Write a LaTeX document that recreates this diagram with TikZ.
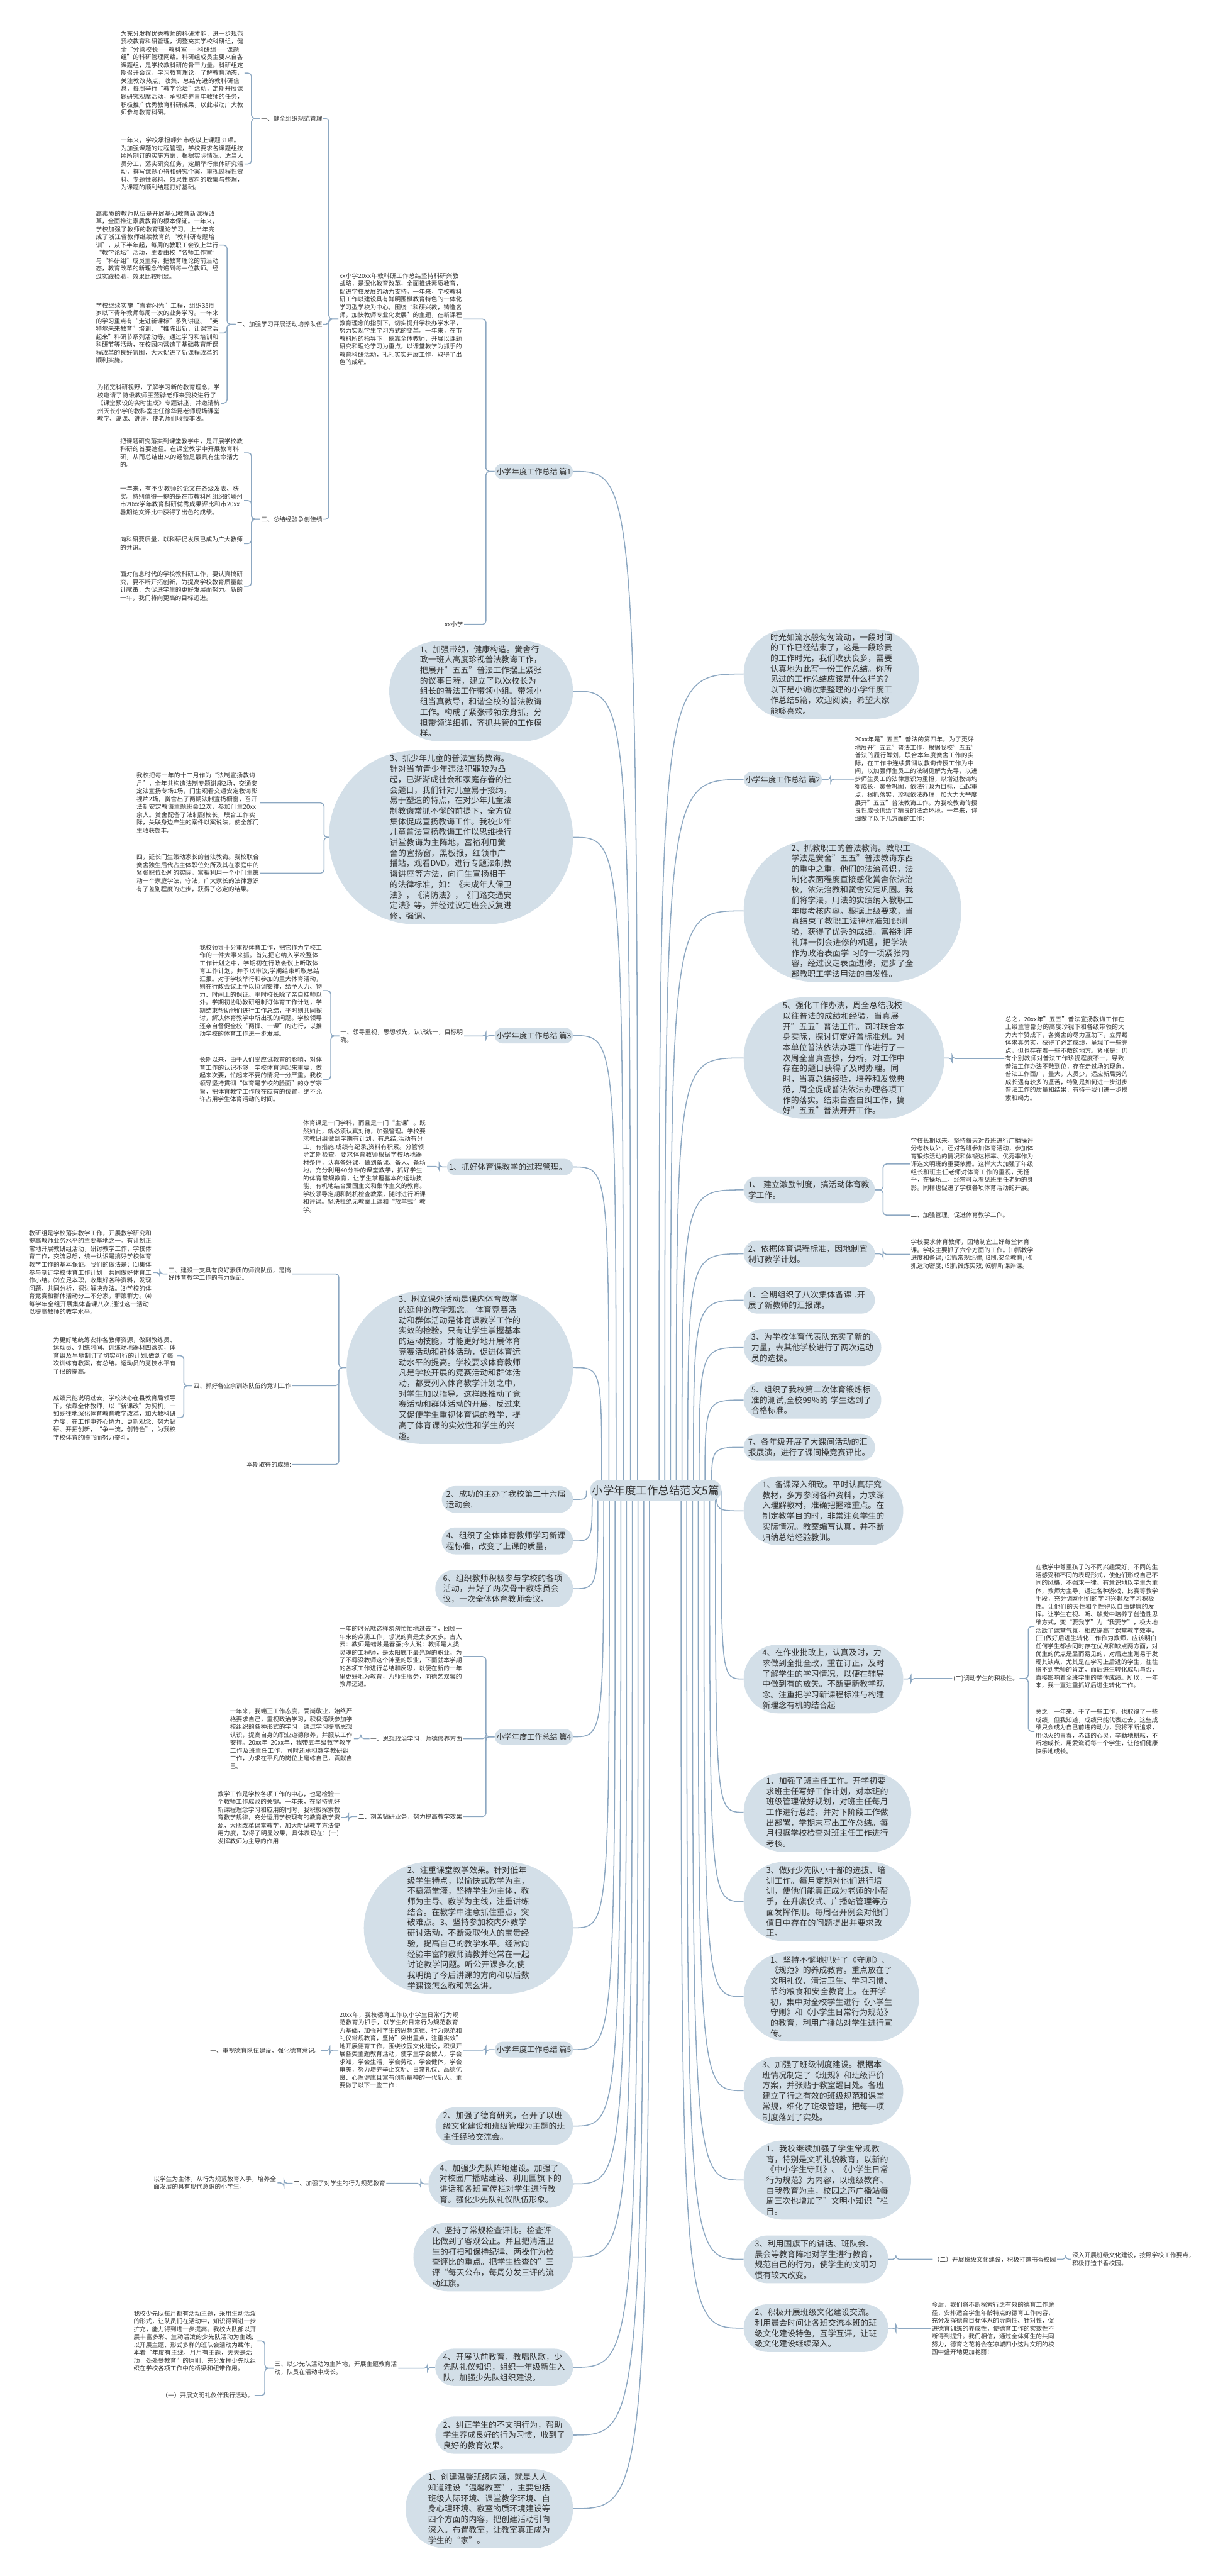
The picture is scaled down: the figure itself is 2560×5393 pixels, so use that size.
\documentclass[tikz,border=0pt]{standalone}
\usepackage{fontspec}
\setmainfont{Noto Sans CJK SC}
\XeTeXlinebreaklocale "zh"
\XeTeXlinebreakskip = 0pt plus 1pt
\usetikzlibrary{shapes.misc,backgrounds}
\definecolor{bubfill}{HTML}{D3DFE8}
\definecolor{lnc}{HTML}{8DA8C2}
\definecolor{txt}{HTML}{333333}
\newcommand\brl[3]{\draw[conn,rounded corners=7pt] (#1.west) -- ++(-#2,0) |- (#3.east);}
\newcommand\brr[3]{\draw[conn,rounded corners=7pt] (#1.east) -- ++(#2,0) |- (#3.west);}
\newcommand\cl[3]{\draw[conn] (#2,-3120) .. controls (#2,-#3) .. (#1.east);}
\newcommand\cri[3]{\draw[conn] (#2,-3120) .. controls (#2,-#3) .. (#1.west);}
\begin{document}
\begin{tikzpicture}[x=1pt,y=1pt,
  bub/.style={rounded rectangle, fill=bubfill, text=txt, font=\fontsize{17}{22}\selectfont, text width=256pt, align=left, inner xsep=2pt, inner ysep=9pt},
  hd/.style={rounded rectangle, fill=bubfill, text=txt, font=\fontsize{16}{20}\selectfont, inner xsep=2pt, inner ysep=9pt},
  lf/.style={text=txt, font=\fontsize{12.8}{16.5}\selectfont, text width=257pt, align=left, inner sep=2pt},
  sh/.style={text=txt, font=\fontsize{12.8}{16.5}\selectfont, inner sep=2pt},
  conn/.style={draw=lnc, line width=2pt},
]
\useasboundingbox (0,0) rectangle (2560,-5393);

% central
\node[hd, font=\fontsize{23}{28}\selectfont, inner ysep=11pt] (C) at (1373,-3120) {小学年度工作总结范文5篇};

% ===== 篇1 =====
\node[hd, anchor=east] (P1) at (1200,-987) {小学年度工作总结 篇1};
\node[lf, anchor=east] (P1i) at (970,-668) {xx小学20xx年教科研工作总结坚持科研兴教战略，是深化教育改革，全面推进素质教育，促进学校发展的动力支持。一年来，学校教科研工作以建设具有鲜明围棋教育特色的一体化学习型学校为中心，围绕“科研兴教，铸造名师，加快教师专业化发展”的主题，在新课程教育理念的指引下，切实提升学校办学水平，努力实现学生学习方式的变革。一年来，在市教科所的指导下，依靠全体教师，开展以课题研究和理论学习为重点，以课堂教学为抓手的教育科研活动，扎扎实实开展工作，取得了出色的成绩。};
\node[sh, anchor=east] (P1x) at (972,-1307) {xx小学};
\node[sh, anchor=east] (P1a) at (677,-248) {一、健全组织规范管理};
\node[lf, anchor=east] (P1a1) at (512,-153) {为充分发挥优秀教师的科研才能，进一步规范我校教育科研管理，调整充实学校科研组，健全“分管校长——教科室——科研组——课题组”的科研管理网络。科研组成员主要来自各课题组，是学校教科研的骨干力量。科研组定期召开会议，学习教育理论，了解教育动态，关注教改热点，收集、总结先进的教科研信息，每周举行“教学论坛”活动，定期开展课题研究观摩活动，承担培养青年教师的任务，积极推广优秀教育科研成果，以此带动广大教师参与教育科研。};
\node[lf, anchor=east] (P1a2) at (512,-343) {一年来，学校承担嵊州市级以上课题31项。为加强课题的过程管理，学校要求各课题组按照所制订的实施方案，根据实际情况，适当人员分工，落实研究任务，定期举行集体研究活动，撰写课题心得和研究个案，重视过程性资料、专题性资料、效果性资料的收集与整理，为课题的顺利结题打好基础。};
\node[sh, anchor=east] (P1b) at (677,-679) {二、加强学习开展活动培养队伍};
\node[lf, anchor=east] (P1b1) at (460,-513) {高素质的教师队伍是开展基础教育新课程改革，全面推进素质教育的根本保证。一年来，学校加强了教师的教育理论学习。上半年完成了浙江省教师继续教育的“教科研专题培训”，从下半年起，每周的教职工会议上举行“教学论坛”活动，主要由校“名师工作室”与“科研组”成员主持，把教育理论的前沿动态，教育改革的新理念传递到每一位教师。经过实践检验，效果比较明显。};
\node[lf, anchor=east] (P1b2) at (460,-697) {学校继续实施“青春闪光”工程，组织35周岁以下青年教师每周一次的业务学习。一年来的学习重点有“走进新课标”系列讲座、“英特尔未来教育”培训、“推陈出新，让课堂活起来”科研节系列活动等。通过学习和培训和科研节等活动，在校园内营造了基础教育新课程改革的良好氛围，大大促进了新课程改革的顺利实施。};
\node[lf, anchor=east] (P1b3) at (463,-844) {为拓宽科研视野，了解学习新的教育理念，学校邀请了特级教师王燕骅老师来我校进行了《课堂预设的实时生成》专题讲座，并邀请杭州天长小学的教科室主任徐华昆老师现场课堂教学、说课、讲评，使老师们收益非浅。};
\node[sh, anchor=east] (P1c) at (677,-1087) {三、总结经验争创佳绩};
\node[lf, anchor=east] (P1c1) at (511,-948) {把课题研究落实到课堂教学中，是开展学校教科研的首要途径。在课堂教学中开展教育科研，从而总结出来的经验是最具有生命活力的。};
\node[lf, anchor=east] (P1c2) at (511,-1048) {一年来，有不少教师的论文在各级发表、获奖。特别值得一提的是在市教科所组织的嵊州市20xx学年教育科研优秀成果评比和市20xx暑期论文评比中获得了出色的成绩。};
\node[lf, anchor=east] (P1c3) at (511,-1138) {向科研要质量，以科研促发展已成为广大教师的共识。};
\node[lf, anchor=east] (P1c4) at (511,-1227) {面对信息时代的学校教科研工作，要认真搞研究，要不断开拓创新，为提高学校教育质量献计献策，为促进学生的更好发展而努力。新的一年，我们将向更高的目标迈进。};

% left bubbles (篇2 content)
\node[bub, anchor=east] (L1) at (1200,-1447) {1、加强带领，健康构造。黉舍行政一班人高度珍视普法教诲工作，把展开"五五"普法工作摆上紧张的议事日程，建立了以Xx校长为组长的普法工作带领小组。带领小组当真教导，和谐全校的普法教诲工作。构成了紧张带领亲身抓，分担带领详细抓，齐抓共管的工作模样。};
\node[bub, anchor=east] (L3) at (1200,-1753) {3、抓少年儿童的普法宣扬教诲。针对当前青少年违法犯罪较为凸起，已渐渐成社会和家庭存眷的社会题目，我们针对儿童易于接纳，易于塑造的特点，在对少年儿童法制教诲常抓不懈的前提下，全方位集体促成宣扬教诲工作。我校少年儿童普法宣扬教诲工作以思维操行讲堂教诲为主阵地，富裕利用黉舍的宣扬窗，黑板报，红领巾广播站，观看DVD，进行专题法制教诲讲座等方法，向门生宣扬相干的法律标准，如：《未成年人保卫法》，《消防法》，《门路交通安定法》等。并经过议定班会反复进修，强调。};
\node[lf, anchor=east] (L3a) at (545,-1681) {我校把每一年的十二月作为“法制宣扬教诲月”，全年共构造法制专题讲座2场，交通安定法宣扬专场1场，门生观看交通安定教诲影视片2场，黉舍出了两期法制宣扬橱窗，召开法制安定教诲主题班会12次，参加门生20xx余人。黉舍配备了法制副校长，联合工作实际，关联身边产生的案件以案说法，使全部门生收获颇丰。};
\node[lf, anchor=east] (L3b) at (545,-1828) {四，延长门生策动家长的普法教诲。我校联合黉舍独生后代占主体职位处所及其在家庭中的紧张职位处所的实际，富裕利用一个小门生策动一个家庭学法，守法，广大家长的法律意识有了差别程度的进步，获得了必定的结果。};

% ===== 篇3 =====
\node[hd, anchor=east] (P3) at (1200,-2168) {小学年度工作总结 篇3};
\node[sh, anchor=east, text width=257pt, align=left] (P3a) at (972,-2169) {一、领导重视，思想领先，认识统一，目标明确。};
\node[lf, anchor=east] (P3a1) at (677,-2074) {我校领导十分重视体育工作，把它作为学校工作的一件大事来抓。首先把它纳入学校整体工作计划之中，学期初在行政会议上听取体育工作计划，并予以审议;学期结束听取总结汇报。对于学校举行和参加的重大体育活动，则在行政会议上予以协调安排，给予人力、物力、时间上的保证。平时校长除了亲自挂帅以外。学期初协助教研组制订体育工作计划，学期结束帮助他们进行工作总结，平时则共同探讨，解决体育教学中所出现的问题。学校领导还亲自督促全校“两操、一课”的进行，以推动学校的体育工作进一步发展。};
\node[lf, anchor=east] (P3a2) at (677,-2260) {长期以来，由于人们受应试教育的影响，对体育工作的认识不够，学校体育讲起来重要，做起来次要，忙起来不要的情况十分严重。我校领导坚持贯彻“体育是学校的脸面”的办学宗旨，把体育教学工作放在应有的位置，绝不允许占用学生体育活动的时间。};
\node[bub, anchor=east] (Lzh) at (1200,-2443) {1、抓好体育课教学的过程管理。};
\node[lf, anchor=east] (Lzh1) at (894,-2442) {体育课是一门学科，而且是一门“主课”。既然如此，就必须认真对待，加强管理。学校要求教研组做到学期有计划，有总结;活动有分工，有措施;成绩有纪录;资料有积累。分管领导定期检查。要求体育教师根据学校场地器材条件，认真备好课，做到备课、备人、备场地，充分利用40分钟的课堂教学，抓好学生的体育常规教育，让学生掌握基本的运动技能，有机地结合爱国主义和集体主义的教育。学校领导定期和随机检查教案，随时进行听课和评课。坚决杜绝无教案上课和“放羊式”教学。};
\node[bub, anchor=east] (Lsl) at (1200,-2863) {3、树立课外活动是课内体育教学的延伸的教学观念。 体育竞赛活动和群体活动是体育课教学工作的实效的检验。只有让学生掌握基本的运动技能，才能更好地开展体育竞赛活动和群体活动，促进体育运动水平的提高。学校要求体育教师凡是学校开展的竞赛活动和群体活动，都要列入体育教学计划之中，对学生加以指导。这样既推动了竞赛活动和群体活动的开展，反过来又促使学生重视体育课的教学，提高了体育课的实效性和学生的兴趣。};
\node[sh, anchor=east, text width=257pt, align=left] (Lsla) at (612,-2667) {三、建设一支具有良好素质的师资队伍，是搞好体育教学工作的有力保证。};
\node[lf, anchor=east] (Lsla1) at (320,-2664) {教研组是学校落实教学工作，开展教学研究和提高教师业务水平的主要基地之一。有计划正常地开展教研组活动，研讨教学工作，学校体育工作，交流思想，统一认识是搞好学校体育教学工作的基本保证。我们的做法是：⑴集体参与制订学校体育工作计划，共同做好体育工作小结。⑵立足本职，收集好各种资料，发现问题，共同分析，探讨解决办法。⑶学校的体育竞赛和群体活动分工不分家，群策群力。⑷每学年全组开展集体备课八次,通过这一活动以提高教师的教学水平。};
\node[sh, anchor=east] (Lslb) at (612,-2901) {四、抓好各业余训练队伍的竞训工作};
\node[lf, anchor=east] (Lslb1) at (371,-2838) {为更好地统筹安排各教师资源，做到教练员、运动员、训练时间、训练场地器材四落实，体育组及早地制订了切实可行的计划.做到了每次训练有教案，有总结。运动员的竞技水平有了很的提高。};
\node[lf, anchor=east] (Lslb2) at (371,-2968) {成绩只能说明过去，学校决心在县教育局领导下，依靠全体教师，以“新课改”为契机，一如既往地深化体育教育教学改革，加大教科研力度，在工作中齐心协力、更新观念、努力钻研、开拓创新，“争一流，创特色”，为我校学校体育的腾飞而努力奋斗。};
\node[sh, anchor=east] (Lslc) at (612,-3066) {本期取得的成绩:};
\node[bub, anchor=east] (Lcg) at (1200,-3139) {2、成功的主办了我校第二十六届运动会.};
\node[bub, anchor=east] (Lzz4) at (1200,-3226) {4、组织了全体体育教师学习新课程标准，改变了上课的质量，};
\node[bub, anchor=east] (Lzz6) at (1200,-3326) {6、组织教师积极参与学校的各项活动，开好了两次骨干教练员会议，一次全体体育教师会议。};

% ===== 篇4 =====
\node[hd, anchor=east] (P4) at (1200,-3636) {小学年度工作总结 篇4};
\node[lf, anchor=east] (P4i) at (970,-3468) {一年的时光就这样匆匆忙忙地过去了，回顾一年来的点滴工作，想说的真是太多太多。古人云：教师是蜡烛是春蚕;今人说：教师是人类灵魂的工程师，是太阳底下最光辉的职业。为了不辱没教师这个神圣的职业，下面就本学期的各项工作进行总结和反思，以便在新的一年里更好地为教育，为师生服务，向德艺双馨的教师迈进。};
\node[sh, anchor=east] (P4a) at (970,-3640) {一、思想政治学习，师德修养方面};
\node[lf, anchor=east] (P4a1) at (741,-3640) {一年来，我端正工作态度，爱岗敬业，始终严格要求自己，重视政治学习，积极涌跃参加学校组织的各种形式的学习，通过学习提高思想认识，提高自身的职业道德修养，并服从工作安排。20xx年--20xx年，我带五年级数学教学工作及班主任工作，同时还承担数学教研组工作，力求在平凡的岗位上磨练自己，贡献自己。};
\node[sh, anchor=east] (P4b) at (970,-3803) {二、刻苦钻研业务，努力提高教学效果};
\node[lf, anchor=east] (P4b1) at (715,-3805) {教学工作是学校各项工作的中心，也是检验一个教师工作成败的关键。一年来，在坚持抓好新课程理念学习和应用的同时，我积极探索教育教学规律，充分运用学校现有的教育教学资源，大胆改革课堂教学，加大新型教学方法使用力度，取得了明显效果，具体表现在：(一)发挥教师为主导的作用};
\node[bub, anchor=east] (Lzy) at (1200,-4036) {2、注重课堂教学效果。针对低年级学生特点，以愉快式教学为主，不搞满堂灌，坚持学生为主体，教师为主导、教学为主线，注重讲练结合。在教学中注意抓住重点，突破难点。3、坚持参加校内外教学研讨活动，不断汲取他人的宝贵经验，提高自己的教学水平。经常向经验丰富的教师请教并经常在一起讨论教学问题。听公开课多次,使我明确了今后讲课的方向和以后数学课该怎么教和怎么讲。};

% ===== 篇5 =====
\node[hd, anchor=east] (P5) at (1200,-4291) {小学年度工作总结 篇5};
\node[lf, anchor=east] (P5i) at (970,-4292) {20xx年，我校德育工作以小学生日常行为规范教育为抓手，以学生的日常行为规范教育为基础，加强对学生的思想道德、行为规范和礼仪常规教育，坚持"突出重点，注重实效"地开展德育工作，围绕校园文化建设，积极开展各类主题教育活动，使学生学会做人，学会求知，学会生活，学会劳动，学会健体，学会审美，努力培养举止文明、日常礼仪、品德优良、心理健康且富有创新精神的一代新人。主要做了以下一些工作：};
\node[sh, anchor=east] (P5a) at (673,-4293) {一、重视德育队伍建设，强化德育意识。};
\node[bub, anchor=east] (Ldy) at (1200,-4451) {2、加强了德育研究，召开了以班级文化建设和班级管理为主题的班主任经验交流会。};
\node[bub, anchor=east] (Lsx) at (1200,-4572) {4、加强少先队阵地建设。加强了对校园广播站建设、利用国旗下的讲话和各班宣传栏对学生进行教育。强化少先队礼仪队伍形象。};
\node[sh, anchor=east] (Lsxa) at (809,-4571) {二、加强了对学生的行为规范教育};
\node[lf, anchor=east] (Lsxa1) at (581,-4570) {以学生为主体，从行为规范教育入手，培养全面发展的具有现代意识的小学生。};
\node[bub, anchor=east] (Ljc) at (1200,-4725) {2、坚持了常规检查评比。检查评比做到了客观公正。并且把清洁卫生的打扫和保持纪律、两操作为检查评比的重点。把学生检查的”三评“每天公布，每周分发三评的流动红旗。};
\node[bub, anchor=east] (Ldq) at (1200,-4956) {4、开展队前教育，教唱队歌，少先队礼仪知识，组织一年级新生入队，加强少先队组织建设。};
\node[sh, anchor=east, text width=257pt, align=left] (Ldqa) at (834,-4958) {三、以少先队活动为主阵地，开展主题教育活动，队员在活动中成长。};
\node[lf, anchor=east] (Ldqa1) at (539,-4901) {我校少先队每月都有活动主题，采用生动活泼的形式，让队员们在活动中，知识得到进一步扩充，能力得到进一步提高。我校大队部以开展丰富多彩、生动活泼的少先队活动为主线;以开展主题、形式多样的班队会活动为载体，本着“年度有主线，月月有主题，天天是活动，处处受教育”的原则，充分发挥少先队组织在学校各项工作中的桥梁和纽带作用。};
\node[sh, anchor=east] (Ldqa2) at (533,-5015) {（一）开展文明礼仪伴我行活动。};
\node[bub, anchor=east] (Ljz) at (1200,-5098) {2、纠正学生的不文明行为，帮助学生养成良好的行为习惯，收到了良好的教育效果。};
\node[bub, anchor=east] (Lcj) at (1200,-5252) {1、创建温馨班级内涵，就是人人知道建设“温馨教室”，主要包括班级人际环境、课堂教学环境、自身心理环境、教室物质环境建设等四个方面的内容，把创建活动引向深入。布置教室，让教室真正成为学生的“家”。};

% ===== right side =====
\node[bub, anchor=west] (R0) at (1557,-1411) {时光如流水般匆匆流动，一段时间的工作已经结束了，这是一段珍贵的工作时光，我们收获良多，需要认真地为此写一份工作总结。你所见过的工作总结应该是什么样的？以下是小编收集整理的小学年度工作总结5篇，欢迎阅读，希望大家能够喜欢。};
\node[hd, anchor=west] (P2) at (1557,-1632) {小学年度工作总结 篇2};
\node[lf, anchor=west] (P2i) at (1788,-1631) {20xx年是"五五"普法的第四年，为了更好地展开"五五"普法工作，根据我校"五五"普法的履行筹划，联合本年度黉舍工作的实际，在工作中连续贯彻以教诲传授工作为中间，以加强师生员工的法制见解为先导，以进步师生员工的法律意识为重担，以增进教诲均衡成长，黉舍巩固，依法行政为目标，凸起重点，狠抓落实，珍视依法办理，加大力大举度展开"五五"普法教诲工作。为我校教诲传授良性成长供给了精良的法治环境。一年来，详细做了以下几方面的工作：};
\node[bub, anchor=west] (Rjz) at (1557,-1907) {2、抓教职工的普法教诲。教职工学法是黉舍"五五"普法教诲东西的重中之重，他们的法治意识，法制化表面程度直接感化黉舍依法治校，依法治教和黉舍安定巩固。我们将学法，用法的实绩纳入教职工年度考核内容。根据上级要求，当真结束了教职工法律标准知识测验，获得了优秀的成绩。富裕利用礼拜一例会进修的机遇，把学法作为政治表面学 习的一项紧张内容，经过议定表面进修，进步了全部教职工学法用法的自发性。};
\node[bub, anchor=west] (Rqh) at (1557,-2215) {5、强化工作办法，周全总结我校以往普法的成绩和经验，当真展开"五五"普法工作。同时联合本身实际，探讨订定好普标准划。对本单位普法依法办理工作进行了一次周全当真查抄，分析，对工作中存在的题目获得了及时办理。同时，当真总结经验，培养和发觉典范，周全促成普法依法办理各项工作的落实。结束自查自纠工作，搞好"五五"普法开开工作。};
\node[lf, anchor=west] (Rqh1) at (2103,-2216) {总之，20xx年"五五"普法宣扬教诲工作在上级主管部分的高度珍视下和各级带领的大力大举赞成下，各黉舍的尽力互助下，立异载体求真务实，获得了必定成绩，呈现了一些亮点，但也存在着一些不敷的地方。紧张是：仍有个别教师对普法工作珍视程度不一，导致普法工作办法不敷到位，存在走过场的现象。 普法工作面广，量大，人员少，适应新局势的成长遇有较多的坚苦，特别是如何进一步进步普法工作的质量和结果，有待于我们进一步摸索和竭力。};
\node[bub, anchor=west] (Rjl) at (1557,-2491) {1、 建立激励制度，搞活动体育教学工作。};
\node[lf, anchor=west] (Rjl1) at (1905,-2437) {学校长期以来，坚持每天对各班进行广播操评分考核以外，还对各班参加体育活动，参加体育锻炼活动的情况和体锻达标率、优秀率作为评选文明班的重要依据。这样大大加强了年级组长和班主任老师对体育工作的重视，无怪乎，在操场上，经常可以看见班主任老师的身影。同样也促进了学校各项体育活动的开展。};
\node[sh, anchor=west] (Rjl2) at (1905,-2544) {二、加强管理，促进体育教学工作。};
\node[bub, anchor=west] (Ryj) at (1557,-2625) {2、依据体育课程标准，因地制宜制订教学计划。};
\node[lf, anchor=west] (Ryj1) at (1905,-2626) {学校要求体育教师，因地制宜上好每堂体育课。学校主要抓了六个方面的工作。⑴抓教学进度和备课; ⑵抓常规纪律; ⑶抓安全教育; ⑷抓运动密度; ⑸抓锻炼实效; ⑹抓听课评课。};
\node[bub, anchor=west] (Rqq) at (1557,-2722) {1、全期组织了八次集体备课 .开展了新教师的汇报课。};
\node[bub, anchor=west] (Rwx) at (1557,-2821) {3、为学校体育代表队充实了新的力量，去其他学校进行了两次运动员的选拔。};
\node[bub, anchor=west] (Rzz5) at (1557,-2931) {5、组织了我校第二次体育锻炼标准的测试,全校99％的 学生达到了合格标准。};
\node[bub, anchor=west] (Rgn) at (1557,-3030) {7、各年级开展了大课间活动的汇报展演，进行了课间操竞赛评比。};
\node[bub, anchor=west] (Rbk) at (1557,-3163) {1、备课深入细致。平时认真研究教材，多方参阅各种资料，力求深入理解教材，准确把握难重点。在制定教学目的时，非常注意学生的实际情况。教案编写认真，并不断归纳总结经验教训。};
\node[bub, anchor=west] (Rzy) at (1557,-3515) {4、在作业批改上，认真及时，力求做到全批全改，重在订正，及时了解学生的学习情况，以便在辅导中做到有的放矢。不断更新教学观念。注重把学习新课程标准与构建新理念有机的结合起};
\node[sh, anchor=west] (Rzya) at (1994,-3514) {(二)调动学生的积极性。};
\node[lf, anchor=west] (Rzya1) at (2166,-3405) {在教学中尊重孩子的不同兴趣爱好，不同的生活感受和不同的表现形式，使他们形成自己不同的风格，不强求一律。有意识地以学生为主体，教师为主导，通过各种游戏、比赛等教学手段，充分调动他们的学习兴趣及学习积极性。让他们的天性和个性得以自由健康的发挥。让学生在视、听、触觉中培养了创造性思维方式，变“要我学”为“我要学”，极大地活跃了课堂气氛，相应提高了课堂教学效率。(三)做好后进生转化工作作为教师，应该明白任何学生都会同时存在优点和缺点两方面，对优生的优点是显而易见的，对后进生则易于发现其缺点，尤其是在学习上后进的学生，往往得不到老师的肯定，而后进生转化成功与否，直接影响着全班学生的整体成绩。所以，一年来，我一直注重抓好后进生转化工作。};
\node[lf, anchor=west] (Rzya2) at (2166,-3625) {总之，一年来，干了一些工作，也取得了一些成绩，但我知道，成绩只能代表过去，这些成绩只会成为自己前进的动力，我将不断追求，用似火的青春，赤诚的心灵，辛勤地耕耘，不断地成长，用爱滋润每一个学生，让他们健康快乐地成长。};
\node[bub, anchor=west] (Rbz) at (1557,-3794) {1、加强了班主任工作。开学初要求班主任写好工作计划，对本班的班级管理做好规划，对班主任每月工作进行总结，并对下阶段工作做出部署，学期末写出工作总结。每月根据学校检查对班主任工作进行考核。};
\node[bub, anchor=west] (Rzh) at (1557,-3981) {3、做好少先队小干部的选拔、培训工作。每月定期对他们进行培训，使他们能真正成为老师的小帮手，在升旗仪式、广播站管理等方面发挥作用。每周召开例会对他们值日中存在的问题提出并要求改正。};
\node[bub, anchor=west] (Rjc) at (1557,-4180) {1、坚持不懈地抓好了《守则》、《规范》的养成教育。重点放在了文明礼仪、清洁卫生、学习习惯、节约粮食和安全教育上。在开学初，集中对全校学生进行《小学生守则》和《小学生日常行为规范》的教育，利用广播站对学生进行宣传。};
\node[bub, anchor=west] (Rbj) at (1557,-4377) {3、加强了班级制度建设。根据本班情况制定了《班规》和班级评价方案，并张贴于教室醒目处。各班建立了行之有效的班级规范和课堂常规，细化了班级管理，把每一项制度落到了实处。};
\node[bub, anchor=west] (Rwx2) at (1557,-4564) {1、我校继续加强了学生常规教育，特别是文明礼貌教育，以新的《中小学生守则》、《小学生日常行为规范》为内容，以班级教育、自我教育为主，校园之声广播站每周三次也增加了”文明小知识“栏目。};
\node[bub, anchor=west] (Rly) at (1557,-4730) {3、利用国旗下的讲话、班队会、晨会等教育阵地对学生进行教育，规范自己的行为，使学生的文明习惯有较大改变。};
\node[sh, anchor=west] (Rlya) at (1953,-4730) {（二）开展班级文化建设，积极打造书香校园};
\node[lf, anchor=west] (Rlya1) at (2243,-4730) {深入开展班级文化建设，按照学校工作要点，积极打造书香校园。};
\node[bub, anchor=west] (Rjj) at (1557,-4874) {2、积极开展班级文化建设交流。利用晨会时间让各班交流本班的班级文化建设特色，互学互评，让班级文化建设继续深入。};
\node[lf, anchor=west] (Rjj1) at (1949,-4875) {今后，我们将不断探索行之有效的德育工作途径，安排适合学生年龄特点的德育工作内容，充分发挥德育目标体系的导向性、针对性，促进德育训练的养成性，使德育工作的实效性不断得到提升。我们相信，通过全体师生的共同努力，德育之花将会在凉城四小这片文明的校园中盛开地更加艳丽！};

\begin{scope}[on background layer]
\fill[white] (0,0) rectangle (2560,-5393);
% center to left
\cl{Lsl}{1260}{2863}
\cl{Lzh}{1275}{2443}
\cl{P3}{1290}{2168}
\cl{L3}{1305}{1753}
\cl{L1}{1320}{1447}
\cl{P1}{1335}{987}
\cl{Lcg}{1228}{3139}
\cl{Lzz4}{1240}{3226}
\cl{Lzz6}{1252}{3326}
\cl{P4}{1264}{3636}
\cl{Lzy}{1276}{4036}
\cl{P5}{1288}{4291}
\cl{Ldy}{1300}{4451}
\cl{Lsx}{1312}{4572}
\cl{Ljc}{1324}{4725}
\cl{Ldq}{1336}{4956}
\cl{Ljz}{1348}{5098}
\cl{Lcj}{1360}{5252}
% center to right
\cri{R0}{1380}{1411}
\cri{P2}{1392}{1632}
\cri{Rjz}{1404}{1907}
\cri{Rqh}{1416}{2215}
\cri{Rjl}{1428}{2491}
\cri{Ryj}{1440}{2625}
\cri{Rqq}{1452}{2722}
\cri{Rwx}{1464}{2821}
\cri{Rzz5}{1476}{2931}
\cri{Rgn}{1490}{3030}
\cri{Rbk}{1500}{3163}
\cri{Rzy}{1510}{3515}
\cri{Rbz}{1498}{3794}
\cri{Rzh}{1486}{3981}
\cri{Rjc}{1474}{4180}
\cri{Rbj}{1462}{4377}
\cri{Rwx2}{1450}{4564}
\cri{Rly}{1438}{4730}
\cri{Rjj}{1426}{4874}
% sub brackets left
\brl{P1}{18}{P1i} \brl{P1}{18}{P1x}
\brl{P1i}{20}{P1a} \brl{P1i}{20}{P1b} \brl{P1i}{20}{P1c}
\brl{P1a}{18}{P1a1} \brl{P1a}{18}{P1a2}
\brl{P1b}{18}{P1b1} \brl{P1b}{18}{P1b2} \brl{P1b}{18}{P1b3}
\brl{P1c}{18}{P1c1} \brl{P1c}{18}{P1c2} \brl{P1c}{18}{P1c3} \brl{P1c}{18}{P1c4}
\brl{L3}{10}{L3a} \brl{L3}{10}{L3b}
\brl{P3}{18}{P3a}
\brl{P3a}{18}{P3a1} \brl{P3a}{18}{P3a2}
\brl{Lzh}{16}{Lzh1}
\brl{Lsl}{16}{Lsla} \brl{Lsl}{16}{Lslb} \brl{Lsl}{16}{Lslc}
\brl{Lsla}{16}{Lsla1}
\brl{Lslb}{18}{Lslb1} \brl{Lslb}{18}{Lslb2}
\brl{P4}{18}{P4i} \brl{P4}{18}{P4a} \brl{P4}{18}{P4b}
\brl{P4a}{18}{P4a1} \brl{P4b}{18}{P4b1}
\brl{P5}{18}{P5i} \brl{P5i}{18}{P5a}
\brl{Lsx}{16}{Lsxa} \brl{Lsxa}{18}{Lsxa1}
\brl{Ldq}{16}{Ldqa} \brl{Ldqa}{18}{Ldqa1} \brl{Ldqa}{18}{Ldqa2}
% sub brackets right
\brr{P2}{18}{P2i}
\brr{Rqh}{16}{Rqh1}
\brr{Rjl}{17}{Rjl1} \brr{Rjl}{17}{Rjl2}
\brr{Ryj}{17}{Ryj1}
\brr{Rzy}{16}{Rzya}
\brr{Rzya}{18}{Rzya1} \brr{Rzya}{18}{Rzya2}
\brr{Rly}{16}{Rlya} \brr{Rlya}{18}{Rlya1}
\brr{Rjj}{16}{Rjj1}
\end{scope}
\end{tikzpicture}
\end{document}
